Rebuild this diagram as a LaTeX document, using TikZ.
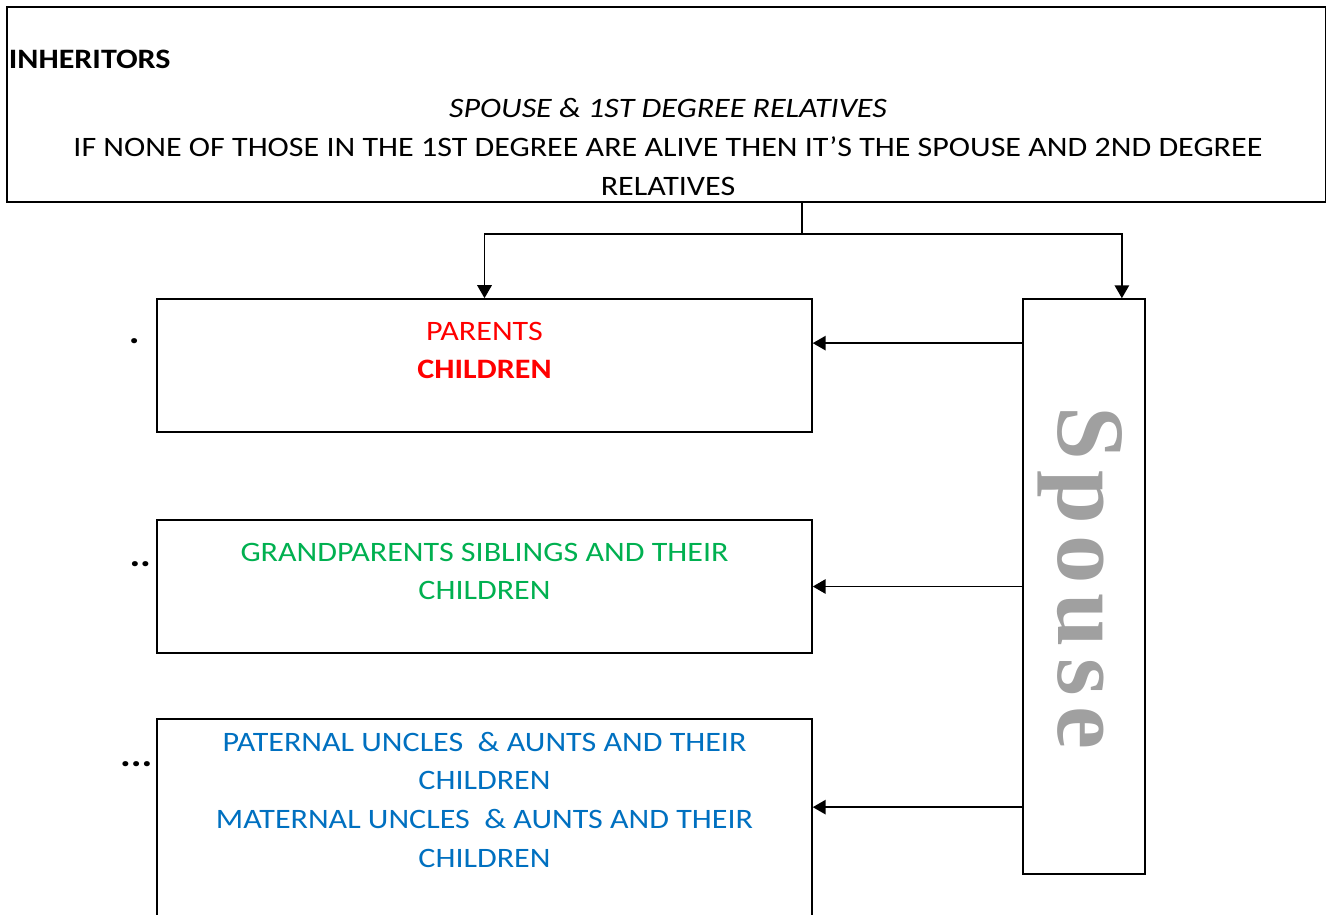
\documentclass[tikz,border=0pt]{standalone}
\usepackage{fontspec}
\setmainfont[FakeStretch=1.14]{Carlito}
\newfontfamily\spousefont[LetterSpace=11]{Liberation Serif}
\usetikzlibrary{arrows,positioning,calc}
\definecolor{parentcolor}{RGB}{255,0,0}
\definecolor{grandcolor}{RGB}{0,176,80}
\definecolor{unclecolor}{RGB}{0,112,192}
\definecolor{spousecolor}{RGB}{160,160,160}

\begin{document}
\begin{tikzpicture}[%
    x=0.02cm, y=-0.02cm,        % work in pixels of the page
    >=triangle 60,
    line width=1pt,
    ]
\tikzset{
  box/.style={draw, rectangle, inner sep=0pt},
  rel/.style={box, minimum width=13.1cm, minimum height=2.66cm},
  txt/.style={align=center, inner sep=0pt, anchor=north,
              font=\fontsize{16}{22.1}\selectfont},
  dots/.style={inner sep=0pt, anchor=base, font=\fontsize{20}{22}\selectfont\bfseries\itshape},
}
\useasboundingbox (0,0) rectangle (1327,915);
\clip (0,0) rectangle (1327,915);

\node [box, minimum width=26.38cm, minimum height=3.9cm] (p0) at (666,104.5) {};
\node [rel] (p1) at (484.5,365.5) {};
\node [rel] (p2) at (484.5,586.5) {};
\node [rel, minimum height=4.8cm] (p3) at (484.5,839) {};
\node [box, minimum width=2.44cm, minimum height=11.5cm] (p5) at (1084,586.5) {};

% texts
\node [txt, anchor=north west] (t0) at (8,49) {\textbf{INHERITORS}};
\node [txt] (t1) at (668,97) {\textit{SPOUSE \& 1ST DEGREE RELATIVES}};
\node [txt] (t2) at (668,136) {IF NONE OF THOSE IN THE 1ST DEGREE ARE ALIVE THEN IT’S THE SPOUSE AND 2ND DEGREE\\RELATIVES};
\node [txt, text=parentcolor] (t3) at (484.5,321) {PARENTS\\\textbf{CHILDREN}};
\node [txt, text=grandcolor] (t4) at (484.5,542) {GRANDPARENTS SIBLINGS AND THEIR\\CHILDREN};
\node [txt, text=unclecolor] (t5) at (484.5,731)
  {PATERNAL UNCLES\ \ \& AUNTS AND THEIR\\CHILDREN\\MATERNAL UNCLES\ \ \& AUNTS AND THEIR\\CHILDREN};
\node [rotate=-90, anchor=base, inner sep=0pt, text=spousecolor,
       font=\spousefont\fontsize{55}{60}\selectfont\bfseries] (t6) at (1058,578) {Spouse};

\node [dots] (d1) at (135,343) {.};
\node [dots] (d2) at (141,566) {..};
\node [dots] (d3) at (137,766) {...};

%connect
\coordinate (j0) at (802,234);
\coordinate (a5) at ($(p5.north east)+(-24,0)$);
\draw (j0 |- p0.south) -- (j0);
\draw [->] (j0) -| (p1.north);
\draw [->] (j0) -| (a5);

\coordinate (a1) at ($(p1.north east)+(0,45)$);
\coordinate (a3) at ($(p3.north east)+(0,89)$);
\draw [->] (p5.west |- a1) -- (a1);
\draw [->] (p5.west |- p2.east) -- (p2.east);
\draw [->] (p5.west |- a3) -- (a3);

\end{tikzpicture}
\end{document}
